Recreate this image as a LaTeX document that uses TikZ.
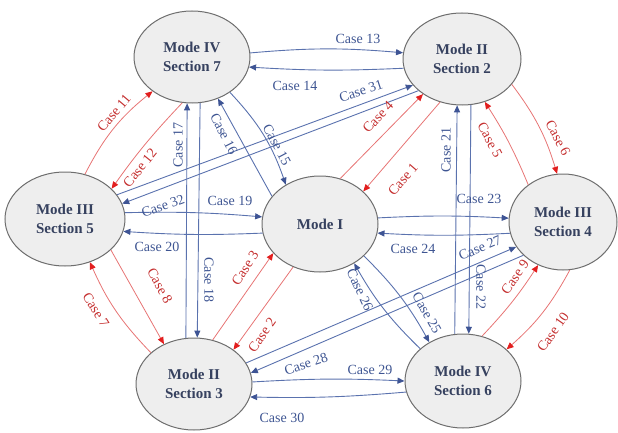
\documentclass[tikz,border=0pt]{standalone}
\usepackage{fontspec}
\setmainfont{Liberation Serif}
\usetikzlibrary{arrows.meta,shapes.geometric}
\definecolor{nodefill}{HTML}{EEEEEE}
\definecolor{nodeborder}{HTML}{6E6E6E}
\definecolor{nodetext}{HTML}{36415F}
\definecolor{bline}{HTML}{5A72AE}
\definecolor{bhead}{HTML}{3E5494}
\definecolor{btext}{HTML}{3E5592}
\definecolor{rline}{HTML}{E77474}
\definecolor{rhead}{HTML}{E21E1E}
\definecolor{rtext}{HTML}{C42E2E}
\tikzset{
  state/.style={ellipse, draw=nodeborder, line width=1pt, fill=nodefill, inner sep=0pt,
    text=nodetext, font=\fontsize{15}{19}\selectfont\bfseries, align=center},
  bedge/.style={draw=bline, line width=0.9pt, -{Triangle[length=7pt,width=6pt,color=bhead]}},
  redge/.style={draw=rline, line width=0.8pt, -{Triangle[length=7pt,width=6pt,color=rhead]}},
  blab/.style={text=btext, font=\fontsize{14}{16}\selectfont, inner sep=0pt},
  rlab/.style={text=rtext, font=\fontsize{14}{16}\selectfont, inner sep=0pt}
}
\begin{document}
\begin{tikzpicture}[x=1pt,y=1pt]
\useasboundingbox (0,0) rectangle (618,432);
% states
\node[state, minimum width=116pt, minimum height=92pt] (s7) at (192,375) {Mode IV\\Section 7};
\node[state, minimum width=118pt, minimum height=92pt] (s2) at (462,373) {Mode II\\Section 2};
\node[state, minimum width=120pt, minimum height=94pt] (s5) at (65,213) {Mode III\\Section 5};
\node[state, minimum width=116pt, minimum height=96pt] (m1) at (320,208) {Mode I};
\node[state, minimum width=108pt, minimum height=96pt] (s4) at (563,210) {Mode III\\Section 4};
\node[state, minimum width=116pt, minimum height=92pt] (s3) at (194,48) {Mode II\\Section 3};
\node[state, minimum width=116pt, minimum height=94pt] (s6) at (463,51) {Mode IV\\Section 6};
% red connectors
\draw[redge] (s5.66) to[bend left=12] (s7.221);
\draw[redge] (s7.258) to[bend right=4] (s5.33);
\draw[redge] (s2.243) -- (m1.37);
\draw[redge] (m1.66) -- (s2.222);
\draw[redge] (s4.133) to[bend right=5] (s2.298);
\draw[redge] (s2.333) to[bend left=10] (s4.97);
\draw[redge] (s3.67) -- (m1.212);
\draw[redge] (m1.238) -- (s3.41);
\draw[redge] (s3.144) to[bend left=10] (s5.300);
\draw[redge] (s5.326) -- (s3.127);
\draw[redge] (s6.67) to[bend right=5] (s4.240);
\draw[redge] (s4.278) to[bend left=10] (s6.36);
% blue connectors
\draw[bedge] (s7.4) to[bend left=5] (s2.174);
\draw[bedge] (s2.189) to[bend left=3] (s7.350);
\draw[bedge] (s5.25) -- (s2.208);
\draw[bedge] (s2.216) -- (s5.15);
\draw[bedge] (s7.317) to[bend left=12] (m1.131);
\draw[bedge] (m1.150) -- (s7.302);
\draw[bedge] (s3.100) -- (s7.264);
\draw[bedge] (s7.280) -- (s3.86);
\draw[bedge] (s5.6) to[bend left=3] (m1.173);
\draw[bedge] (m1.189) to[bend left=3] (s5.348);
\draw[bedge] (s6.100) -- (s2.264);
\draw[bedge] (s2.281) -- (s6.83);
\draw[bedge] (m1.6) to[bend left=3] (s4.176);
\draw[bedge] (s4.192) to[bend left=3] (m1.351);
\draw[bedge] (m1.324) to[bend left=8] (s6.131);
\draw[bedge] (s6.143) to[bend left=8] (m1.311);
\draw[bedge] (s3.22) -- (s4.208);
\draw[bedge] (s4.220) -- (s3.11);
\draw[bedge] (s3.2) to[bend left=3] (s6.180);
\draw[bedge] (s6.191) to[bend left=3] (s3.347);
% labels
\node[rlab, rotate=50] (l11) at (114,319) {Case 11};
\node[rlab, rotate=51] (l12) at (140,264) {Case 12};
\node[rlab, rotate=49] (l1) at (403,253) {Case 1};
\node[rlab, rotate=47] (l4) at (378,315) {Case 4};
\node[rlab, rotate=-62] (l5) at (490,292) {Case 5};
\node[rlab, rotate=-62] (l6) at (558,294) {Case 6};
\node[rlab, rotate=57] (l3) at (245,164) {Case 3};
\node[rlab, rotate=55] (l2) at (262,97) {Case 2};
\node[rlab, rotate=-58] (l7) at (96,122) {Case 7};
\node[rlab, rotate=-61] (l8) at (160,146) {Case 8};
\node[rlab, rotate=55] (l9) at (515,155) {Case 9};
\node[rlab, rotate=55] (l10) at (553,100) {Case 10};
\node[blab] (l13) at (358,393) {Case 13};
\node[blab] (l14) at (295,346) {Case 14};
\node[blab, rotate=-62] (l15) at (277,287) {Case 15};
\node[blab, rotate=-63] (l16) at (224,298) {Case 16};
\node[blab, rotate=90] (l17) at (178,287) {Case 17};
\node[blab, rotate=-90] (l18) at (209,152) {Case 18};
\node[blab] (l19) at (230,231) {Case 19};
\node[blab] (l20) at (157,185) {Case 20};
\node[blab, rotate=90] (l21) at (446,282) {Case 21};
\node[blab, rotate=-90] (l22) at (481,145) {Case 22};
\node[blab] (l23) at (479,233) {Case 23};
\node[blab] (l24) at (413,183) {Case 24};
\node[blab, rotate=-60] (l25) at (427,119) {Case 25};
\node[blab, rotate=-65] (l26) at (360,142) {Case 26};
\node[blab, rotate=23] (l27) at (480,184) {Case 27};
\node[blab, rotate=19] (l28) at (306,68) {Case 28};
\node[blab] (l29) at (370,62) {Case 29};
\node[blab] (l30) at (282,14) {Case 30};
\node[blab, rotate=18] (l31) at (361,341) {Case 31};
\node[blab, rotate=20] (l32) at (163,226) {Case 32};
\end{tikzpicture}
\end{document}
